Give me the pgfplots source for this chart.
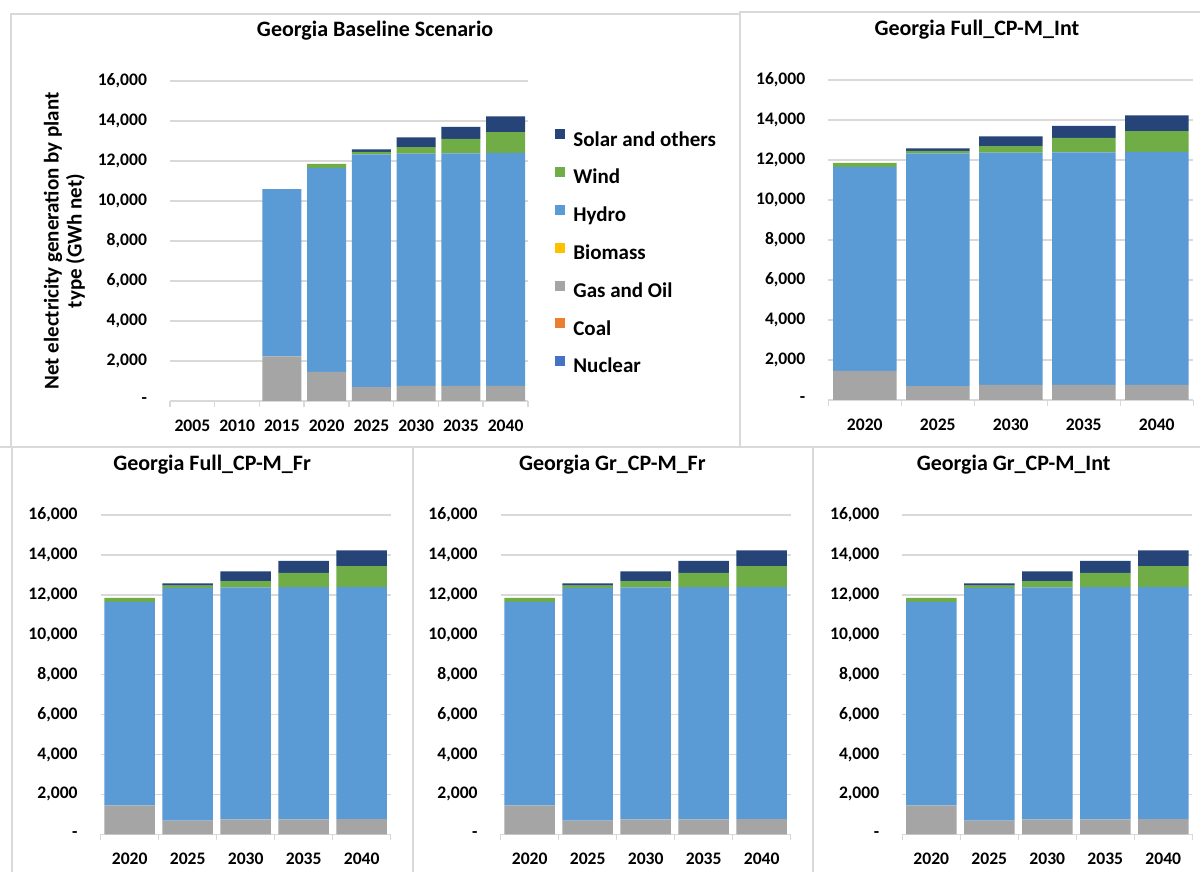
\documentclass[border=0pt]{standalone}
\usepackage{pgfplots}
\pgfplotsset{compat=1.18}
\usepackage{pgfplotstable}
\usepackage{fontspec}
\setmainfont{Carlito}

\definecolor{cSolar}{HTML}{264478}
\definecolor{cWind}{HTML}{70AD47}
\definecolor{cHydro}{HTML}{5B9BD5}
\definecolor{cBiomass}{HTML}{FFC000}
\definecolor{cGas}{HTML}{A5A5A5}
\definecolor{cCoal}{HTML}{ED7D31}
\definecolor{cNuclear}{HTML}{4472C4}
\definecolor{gridgray}{HTML}{D9D9D9}

% Net generation (GWh) by plant type, baseline run 2005-2040
\pgfplotstableread{
x Nuclear Coal Gas Biomass Hydro Wind Solar
0 0 0 0    0 0     0    0
1 0 0 0    0 0     0    0
2 0 0 2230 0 8360  0    0
3 0 0 1450 0 10200 200  0
4 0 0 690  0 11640 130  115
5 0 0 750  0 11620 320  490
6 0 0 750  0 11630 720  600
7 0 0 760  0 11640 1040 790
}\tblbase

% Policy scenarios 2020-2040
\pgfplotstableread{
x Nuclear Coal Gas Biomass Hydro Wind Solar
0 0 0 1450 0 10200 200  0
1 0 0 690  0 11640 130  115
2 0 0 750  0 11620 320  490
3 0 0 750  0 11630 720  600
4 0 0 760  0 11640 1040 790
}\tblscen

\pgfplotsset{
  genpanel/.style={
    scale only axis,
    ybar stacked, bar width=0.87,
    ymin=0, ymax=16000,
    scaled y ticks=false,
    ytick={0,2000,...,16000},
    yticklabels={-\hspace{0.5em},{2,000},{4,000},{6,000},{8,000},{10,000},{12,000},{14,000},{16,000}},
    ymajorgrids, grid style={gridgray, line width=0.75pt},
    axis x line*=bottom, axis y line*=left,
    x axis line style={gridgray, line width=0.75pt, -},
    y axis line style={draw=none},
    major tick length=0pt,
    ticklabel style={font=\bfseries\fontsize{8.8}{10}\selectfont, text=black},
    yticklabel style={xshift=-8pt},
    xticklabel style={yshift=-5.8pt},
    extra x tick labels={},
    extra x tick style={major tick length=3pt, tick align=outside,
      tick style={draw=gridgray, line width=0.75pt}},
    title style={font=\bfseries\fontsize{11}{13}\selectfont, anchor=center, yshift=19pt},
    every axis plot/.append style={draw=none},
  },
  scenpanel/.style={
    genpanel,
    xmin=-0.5, xmax=4.5,
    xtick={0,...,4},
    xticklabels={2020,2025,2030,2035,2040},
    extra x ticks={-0.5,0.5,1.5,2.5,3.5,4.5},
  },
}

\newcommand{\stackplots}[1]{%
  \addplot[fill=cNuclear] table[x=x, y=Nuclear] {#1};
  \addplot[fill=cCoal]    table[x=x, y=Coal]    {#1};
  \addplot[fill=cGas]     table[x=x, y=Gas]     {#1};
  \addplot[fill=cBiomass] table[x=x, y=Biomass] {#1};
  \addplot[fill=cHydro]   table[x=x, y=Hydro]   {#1};
  \addplot[fill=cWind]    table[x=x, y=Wind]    {#1};
  \addplot[fill=cSolar]   table[x=x, y=Solar]   {#1};
}

\begin{document}
\begin{tikzpicture}
\useasboundingbox[fill=white] (0,0) rectangle (600pt,436pt);

% chart frames
\begin{scope}[draw=gridgray, line width=0.75pt]
  \draw (5.5pt,212.5pt) -- (5.5pt,429pt) -- (370pt,429pt);
  \draw (370pt,212.5pt) -- (370pt,430pt) -- (600pt,430pt);
  \draw (6pt,0pt) -- (6pt,212.5pt);
  \draw (0pt,212.5pt) -- (600pt,212.5pt);
  \draw (206.5pt,0pt) -- (206.5pt,212.5pt);
  \draw (406.5pt,0pt) -- (406.5pt,212.5pt);
\end{scope}

% Baseline scenario with legend
\begin{axis}[genpanel,
  at={(85pt,235.5pt)}, anchor=south west,
  width=179pt, height=160pt,
  xmin=-0.5, xmax=7.5,
  xtick={0,...,7},
  xticklabels={2005,2010,2015,2020,2025,2030,2035,2040},
  extra x ticks={-0.5,0.5,1.5,2.5,3.5,4.5,5.5,6.5,7.5},
  title={Georgia Baseline Scenario},
  title style={at={(0.573,1)}},
  ylabel={Net electricity generation by plant\\type (GWh net)},
  ylabel style={at={(rel axis cs:0,0.5)}, anchor=center,
    yshift=52.75pt, align=center, font=\bfseries\fontsize{10.5}{11.5}\selectfont},
  reverse legend,
  legend style={draw=none, fill=none, at={(1,1)}, anchor=north west,
    xshift=10.5pt, yshift=-22pt, row sep=8.5pt,
    font=\bfseries\fontsize{10.5}{12}\selectfont,
    nodes={inner sep=0pt, text height=7pt, text depth=2pt, anchor=west},
    /tikz/every odd column/.append style={column sep=4pt}},
  legend cell align=left,
  legend image code/.code={\fill[#1] (0pt,0.9pt) rectangle (5pt,5.9pt);},
]
\stackplots{\tblbase}
\legend{Nuclear,Coal,Gas and Oil,Biomass,Hydro,Wind,Solar and others}
\end{axis}

\begin{axis}[scenpanel,
  at={(414.15pt,236pt)}, anchor=south west,
  width=182.5pt, height=160pt,
  title={Georgia Full\_CP-M\_Int},
  title style={at={(0.407,1)}},
]
\stackplots{\tblscen}
\end{axis}

\begin{axis}[scenpanel,
  at={(50.35pt,18.85pt)}, anchor=south west,
  width=145pt, height=159.65pt,
  title={Georgia Full\_CP-M\_Fr},
  title style={at={(0.384,1)}},
]
\stackplots{\tblscen}
\end{axis}

\begin{axis}[scenpanel,
  at={(250.35pt,18.85pt)}, anchor=south west,
  width=145pt, height=159.65pt,
  title={Georgia Gr\_CP-M\_Fr},
  title style={at={(0.385,1)}},
]
\stackplots{\tblscen}
\end{axis}

\begin{axis}[scenpanel,
  at={(451.15pt,18.85pt)}, anchor=south west,
  width=145pt, height=159.65pt,
  title={Georgia Gr\_CP-M\_Int},
  title style={at={(0.384,1)}},
]
\stackplots{\tblscen}
\end{axis}
\end{tikzpicture}
\end{document}
